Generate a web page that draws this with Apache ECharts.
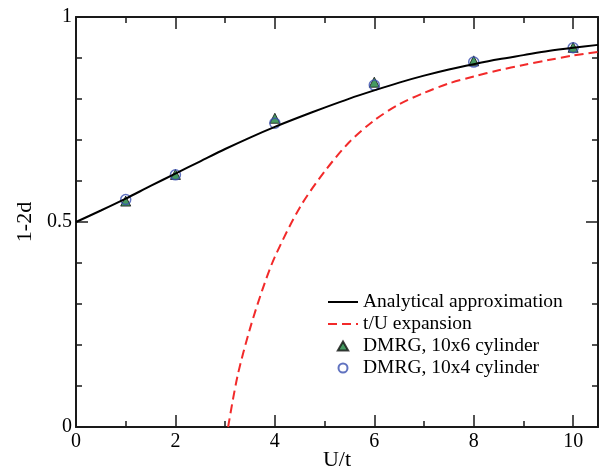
<!DOCTYPE html>
<html>
<head>
<meta charset="utf-8">
<script src="https://cdn.jsdelivr.net/npm/echarts@6/dist/echarts.min.js"></script>
<style>
  html, body { margin: 0; padding: 0; background: #fff; }
  #chart { width: 607px; height: 469px; }
</style>
</head>
<body>
<div id="chart"></div>
<script>
// values
const approxU = [0, 0.5, 1, 1.5, 2, 2.5, 3, 3.5, 4, 4.5, 5, 5.5, 6, 6.5, 7, 7.5, 8, 8.5, 9, 9.5, 10, 10.5];
const approxY = [0.5, 0.528, 0.557, 0.588, 0.618, 0.648, 0.678, 0.706, 0.732, 0.756, 0.779, 0.801, 0.821, 0.84, 0.857, 0.872, 0.885, 0.897, 0.907, 0.917, 0.925, 0.932];

const expU = [3.06, 3.25, 3.5, 3.75, 4, 4.5, 5, 5.5, 6, 6.5, 7, 7.5, 8, 8.5, 9, 9.5, 10, 10.5];
const expY = [0, 0.125, 0.24, 0.335, 0.415, 0.535, 0.623, 0.695, 0.748, 0.787, 0.815, 0.838, 0.855, 0.87, 0.883, 0.895, 0.906, 0.915];

const dmrgU = [1, 2, 4, 6, 8, 10];
const dmrg6 = [0.551, 0.616, 0.753, 0.841, 0.893, 0.926];
const dmrg4 = [0.555, 0.615, 0.741, 0.834, 0.890, 0.925];

const xMajorTicks = [0, 2, 4, 6, 8, 10];
const yTickLabels = ['0', '0.5', '1'];

const serif = "'Liberation Serif', 'Times New Roman', serif";
const ink = '#1a1a1a';

const pairs = (xs, ys) => xs.map((x, i) => [x, ys[i]]);

const chart = echarts.init(document.getElementById('chart'));

// one axis per side for major ticks, another for minor ticks (x only)
function xAx(pos, interval, len, labels, line) {
  return {
    type: 'value', position: pos, min: 0, max: 10.5, interval: interval,
    axisLine: { show: line, onZero: false, lineStyle: { color: ink, width: 2 } },
    axisTick: { show: true, inside: true, length: len, lineStyle: { color: ink, width: 1.5 } },
    axisLabel: {
      show: labels, margin: 5, color: '#000', fontFamily: serif, fontSize: 20,
      formatter: v => (xMajorTicks.indexOf(v) >= 0 ? String(v) : '')
    },
    splitLine: { show: false }
  };
}

function yAx(pos, labels) {
  return {
    type: 'value', position: pos, min: 0, max: 1, interval: 0.5,
    axisLine: { show: true, onZero: false, lineStyle: { color: ink, width: 2 } },
    axisTick: { show: true, inside: true, length: 12, lineStyle: { color: ink, width: 1.5 } },
    minorTick: { show: true, splitNumber: 5, length: 6, lineStyle: { color: ink, width: 1.5 } },
    axisLabel: {
      show: labels, margin: 4, color: '#000', fontFamily: serif, fontSize: 20,
      formatter: v => yTickLabels[Math.round(v * 2)]
    },
    splitLine: { show: false }
  };
}

const xAxes = [
  xAx('bottom', 2, 12, true, true),
  xAx('bottom', 1, 6, false, false),
  xAx('top', 2, 12, false, true),
  xAx('top', 1, 6, false, false)
];
xAxes[0].name = 'U/t';
xAxes[0].nameLocation = 'middle';
xAxes[0].nameGap = 22;
xAxes[0].nameMoveOverlap = false;
xAxes[0].nameTextStyle = { color: '#000', fontFamily: serif, fontSize: 22 };

const yAxes = [yAx('left', true), yAx('right', false)];
yAxes[0].name = '1-2d';
yAxes[0].nameLocation = 'middle';
yAxes[0].nameRotate = 90;
yAxes[0].nameGap = 40;
yAxes[0].nameMoveOverlap = false;
yAxes[0].nameTextStyle = { color: '#000', fontFamily: serif, fontSize: 22 };

// line keys: hide the dot legend adds for line series
const hideDot = { opacity: 0 };

chart.setOption({
  animation: false,
  backgroundColor: '#fff',
  grid: { left: 76, top: 17, width: 522, height: 410, containLabel: false, outerBoundsMode: 'none' },
  xAxis: xAxes,
  yAxis: yAxes,
  legend: {
    orient: 'vertical', left: 322, top: 287,
    itemWidth: 30, itemHeight: 9, itemGap: 2,
    textStyle: { color: '#000', fontFamily: serif, fontSize: 19.5 },
    data: [
      { name: 'Analytical approximation', itemStyle: hideDot },
      { name: 't/U expansion', itemStyle: hideDot },
      { name: 'DMRG, 10x6 cylinder', icon: 'path://M5,0L10,8.7L0,8.7Z' },
      { name: 'DMRG, 10x4 cylinder', icon: 'circle' }
    ]
  },
  series: [
    {
      name: 'Analytical approximation', type: 'line', smooth: 0.3, symbol: 'none',
      xAxisIndex: 0, yAxisIndex: 0,
      lineStyle: { color: '#000', width: 2 }, itemStyle: { color: '#000' },
      data: pairs(approxU, approxY)
    },
    {
      name: 't/U expansion', type: 'line', smooth: 0.3, symbol: 'none',
      xAxisIndex: 0, yAxisIndex: 0,
      lineStyle: { color: '#f22a2a', width: 2, type: [9, 5] }, itemStyle: { color: '#f22a2a' },
      data: pairs(expU, expY)
    },
    {
      name: 'DMRG, 10x6 cylinder', type: 'scatter', symbol: 'triangle', symbolSize: 10,
      xAxisIndex: 0, yAxisIndex: 0,
      itemStyle: { color: '#17803a', borderColor: '#111', borderWidth: 1 },
      data: pairs(dmrgU, dmrg6)
    },
    {
      name: 'DMRG, 10x4 cylinder', type: 'scatter', symbol: 'circle', symbolSize: 10,
      xAxisIndex: 0, yAxisIndex: 0,
      itemStyle: { color: 'rgba(255,255,255,0)', borderColor: '#3a50b0', borderWidth: 1.5 },
      data: pairs(dmrgU, dmrg4)
    }
  ]
});
</script>
</body>
</html>
